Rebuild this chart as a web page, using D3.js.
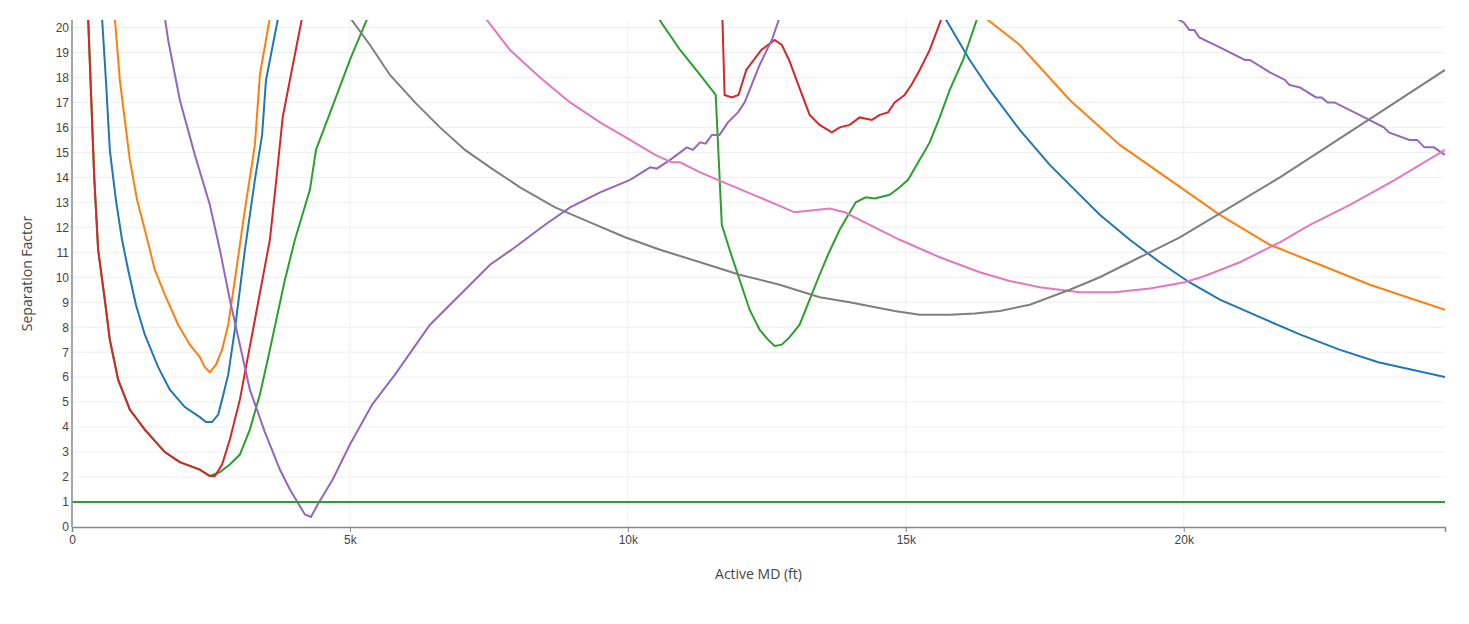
<!DOCTYPE html>
<meta charset="utf-8">
<title>Separation Factor</title>
<style>
body { margin: 0; background: #fff; font-family: "Open Sans", sans-serif; }
.axis text { fill: #444; font-size: 12px; }
.grid line { stroke: #eee; }
</style>
<body>
<script src="https://cdn.jsdelivr.net/npm/d3@7"></script>
<script>

// values: [MD in thousand ft, separation factor]
var blue = [[0.54,20.4],[0.61,17.9],[0.68,15.1],[0.79,13.1],[0.9,11.5],[1.01,10.3],[1.15,8.9],[1.31,7.7],[1.55,6.4],[1.76,5.5],[2.03,4.8],[2.3,4.4],[2.41,4.2],[2.52,4.2],[2.63,4.5],[2.7,5.1],[2.81,6.1],[2.93,7.9],[3.11,11.1],[3.29,13.9],[3.42,15.7],[3.49,17.9],[3.71,20.4]];
var blue2 = [[15.7,20.4],[16.15,18.7],[16.51,17.5],[17.05,15.9],[17.59,14.5],[18.04,13.5],[18.49,12.5],[19.03,11.5],[19.57,10.6],[20.1,9.8],[20.65,9.1],[21.37,8.4],[22.1,7.7],[22.8,7.1],[23.5,6.6],[24.7,6.0]];
var orange = [[0.77,20.4],[0.86,17.9],[0.95,16.3],[1.04,14.7],[1.17,13.1],[1.31,11.9],[1.49,10.3],[1.67,9.3],[1.91,8.1],[2.12,7.3],[2.3,6.8],[2.39,6.4],[2.48,6.2],[2.59,6.5],[2.7,7.1],[2.81,8.1],[2.93,9.9],[3.11,12.7],[3.29,15.3],[3.38,18.1],[3.56,20.4]];
var orange2 = [[16.42,20.4],[17.05,19.3],[17.95,17.1],[18.85,15.3],[19.75,13.9],[20.65,12.5],[21.55,11.3],[22.45,10.5],[23.35,9.7],[24.7,8.7]];
var early = [[0.29,20.4],[0.4,14],[0.47,11.1],[0.59,9.1],[0.68,7.5],[0.83,5.9],[1.04,4.7],[1.31,3.9],[1.67,3.0],[1.94,2.6],[2.3,2.3],[2.48,2.04]];
var green = early.concat([[2.66,2.2],[2.84,2.5],[3.02,2.9],[3.2,3.9],[3.38,5.3],[3.56,7.1],[3.83,9.9],[4.01,11.5],[4.28,13.5],[4.39,15.1],[4.73,17.1],[5.0,18.7],[5.32,20.4]]);
var green2 = [[10.54,20.4],[10.94,19.1],[11.3,18.1],[11.58,17.3],[11.69,12.1],[11.83,11.1],[12.01,9.9],[12.19,8.7],[12.37,7.9],[12.52,7.5],[12.64,7.25],[12.77,7.3],[12.91,7.6],[13.09,8.1],[13.27,9.1],[13.45,10.1],[13.6,10.9],[13.81,11.9],[14.1,13.0],[14.28,13.2],[14.44,13.15],[14.71,13.3],[14.89,13.6],[15.04,13.9],[15.25,14.7],[15.43,15.4],[15.61,16.4],[15.79,17.5],[16.03,18.7],[16.29,20.4]];
var red = early.concat([[2.57,2.04],[2.7,2.5],[2.84,3.5],[3.02,5.1],[3.29,8.3],[3.56,11.5],[3.68,14.0],[3.79,16.4],[3.92,17.9],[4.14,20.4]]);
var red2 = [[11.7,20.4],[11.74,17.3],[11.87,17.2],[11.99,17.3],[12.13,18.3],[12.4,19.1],[12.64,19.5],[12.77,19.3],[12.9,18.7],[13.1,17.5],[13.27,16.5],[13.45,16.1],[13.67,15.8],[13.81,16.0],[13.99,16.1],[14.17,16.4],[14.39,16.3],[14.53,16.5],[14.68,16.6],[14.8,17.0],[14.98,17.3],[15.1,17.7],[15.25,18.3],[15.43,19.1],[15.65,20.4]];
var purple = [[1.67,20.4],[1.73,19.5],[1.94,17.1],[2.21,14.9],[2.48,12.9],[2.66,11.1],[2.84,9.1],[3.02,7.3],[3.2,5.5],[3.47,3.8],[3.74,2.3],[3.92,1.5],[4.19,0.5],[4.3,0.4],[4.42,0.9],[4.69,1.9],[5.0,3.3],[5.4,4.9],[5.81,6.1],[6.44,8.1],[7.07,9.5],[7.52,10.5],[7.97,11.2],[8.51,12.1],[8.96,12.8],[9.5,13.4],[10.04,13.9],[10.4,14.4],[10.52,14.35],[10.76,14.7],[11.06,15.2],[11.17,15.1],[11.3,15.4],[11.4,15.35],[11.51,15.7],[11.65,15.7],[11.8,16.2],[11.98,16.6],[12.1,17.0],[12.37,18.5],[12.59,19.5],[12.73,20.4]];
var purple2 = [[19.84,20.4],[20.0,20.2],[20.1,19.9],[20.19,19.9],[20.28,19.6],[20.65,19.2],[21.1,18.7],[21.19,18.7],[21.55,18.2],[21.82,17.9],[21.9,17.7],[22.09,17.6],[22.38,17.2],[22.48,17.2],[22.59,17.0],[22.71,17.0],[23.16,16.5],[23.6,16.0],[23.69,15.8],[24.06,15.5],[24.2,15.5],[24.33,15.2],[24.5,15.2],[24.7,14.9]];
var pink = [[7.43,20.4],[7.88,19.1],[8.42,18.0],[8.96,17.0],[9.5,16.2],[10.04,15.5],[10.49,14.9],[10.79,14.6],[10.94,14.6],[11.3,14.2],[11.83,13.7],[12.37,13.2],[13.0,12.6],[13.63,12.75],[13.9,12.6],[14.35,12.1],[14.89,11.5],[15.61,10.8],[16.33,10.2],[16.87,9.85],[17.41,9.6],[18.13,9.4],[18.76,9.4],[19.39,9.55],[20.02,9.8],[20.38,10.05],[21.01,10.6],[21.73,11.4],[22.27,12.1],[22.99,12.9],[23.8,13.9],[24.7,15.1]];
var gray = [[5.0,20.4],[5.36,19.3],[5.72,18.1],[6.17,17.0],[6.62,16.0],[7.07,15.1],[7.52,14.4],[8.06,13.6],[8.69,12.8],[9.32,12.2],[9.95,11.6],[10.58,11.1],[11.3,10.6],[12.01,10.1],[12.73,9.7],[13.45,9.2],[13.99,9.0],[14.8,8.65],[15.25,8.5],[15.79,8.5],[16.24,8.55],[16.69,8.65],[17.23,8.9],[17.95,9.5],[18.49,10.0],[19.21,10.8],[19.93,11.6],[20.83,12.8],[21.73,14.0],[22.63,15.3],[23.53,16.6],[24.7,18.3]];
var limit = [[0,1],[24.7,1]];

var series = [
  {pts: blue, c: "#1f77b4"}, {pts: blue2, c: "#1f77b4"},
  {pts: orange, c: "#ff7f0e"}, {pts: orange2, c: "#ff7f0e"},
  {pts: green, c: "#2ca02c"}, {pts: green2, c: "#2ca02c"},
  {pts: red, c: "#d62728"}, {pts: red2, c: "#d62728"},
  {pts: purple, c: "#9467bd"}, {pts: purple2, c: "#9467bd"},
  {pts: pink, c: "#e377c2"}, {pts: gray, c: "#7f7f7f"},
  {pts: limit, c: "#2ca02c"}
];
var xTicks = [0, 5, 10, 15, 20];

var W = 1469, H = 624, m = {l: 72, r: 24, t: 20, b: 97};
var x = d3.scaleLinear().domain([0, 24.7]).range([m.l, W - m.r]);
var y = d3.scaleLinear().domain([0, 20.3]).range([H - m.b, m.t]);

var svg = d3.select("body").append("svg").attr("width", W).attr("height", H);
svg.append("clipPath").attr("id", "clip").append("rect")
  .attr("x", m.l).attr("y", m.t).attr("width", W - m.l - m.r).attr("height", H - m.t - m.b);

svg.append("g").attr("class", "grid")
  .selectAll("line").data(d3.range(1, 21)).join("line")
  .attr("x1", m.l).attr("x2", W - m.r).attr("y1", y).attr("y2", y);
svg.append("g").attr("class", "grid")
  .selectAll("line").data(xTicks.slice(1)).join("line")
  .attr("y1", m.t).attr("y2", H - m.b).attr("x1", x).attr("x2", x);

var line = d3.line().x(d => x(d[0])).y(d => y(d[1]));
svg.append("g").attr("clip-path", "url(#clip)")
  .selectAll("path").data(series).join("path")
  .attr("d", d => line(d.pts)).attr("fill", "none")
  .attr("stroke", d => d.c).attr("stroke-width", 2);

var xa = svg.append("g").attr("class", "axis").attr("transform", "translate(0," + (H - m.b) + ")")
  .call(d3.axisBottom(x).tickValues(xTicks).tickFormat(d => d ? d + "k" : "0").tickSize(5));
var ya = svg.append("g").attr("class", "axis").attr("transform", "translate(" + m.l + ",0)")
  .call(d3.axisLeft(y).tickValues(d3.range(0, 21)).tickSize(0).tickPadding(3));
[xa, ya].forEach(a => { a.select(".domain").attr("stroke", "#888").attr("stroke-width", 1.5); a.selectAll("line").attr("stroke", "#888"); });
ya.select(".domain").attr("d", "M0," + y(0) + "V" + m.t);

svg.append("text").attr("x", (m.l + W - m.r) / 2).attr("y", 579).attr("text-anchor", "middle")
  .attr("fill", "#444").style("font-size", "14px").text("Active MD (ft)");
svg.append("text").attr("transform", "translate(32," + ((m.t + H - m.b) / 2) + ") rotate(-90)")
  .attr("text-anchor", "middle").attr("fill", "#444").style("font-size", "14px").text("Separation Factor");

</script>
